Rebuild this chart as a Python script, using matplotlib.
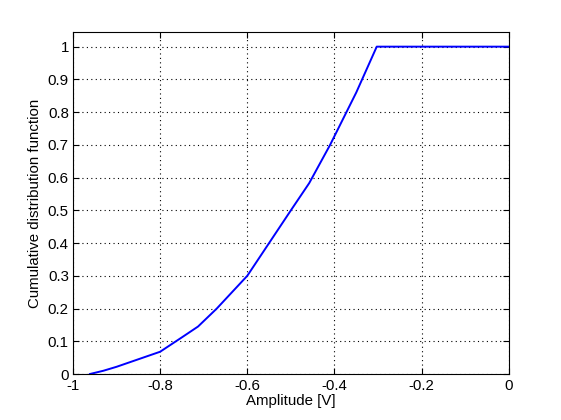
import matplotlib
matplotlib.use("Agg")
import matplotlib.pyplot as plt
from matplotlib.ticker import FixedLocator, FixedFormatter

plt.rcParams['font.family'] = ['Liberation Sans', 'DejaVu Sans']
plt.rcParams['axes.unicode_minus'] = False

amplitude = [-0.961, -0.93, -0.9, -0.85, -0.8, -0.75, -0.713, -0.67, -0.6, -0.55, -0.5, -0.458, -0.41, -0.35, -0.303, 0.0]
cdf = [0.0, 0.01, 0.022, 0.045, 0.068, 0.112, 0.145, 0.2, 0.3, 0.4, 0.5, 0.583, 0.7, 0.86, 1.0, 1.0]

xticks = [-1, -0.8, -0.6, -0.4, -0.2, 0]
xticklabels = ['-1', '-0.8', '-0.6', '-0.4', '-0.2', '0']
yticks = [0, 0.1, 0.2, 0.3, 0.4, 0.5, 0.6, 0.7, 0.8, 0.9, 1]
yticklabels = ['0', '0.1', '0.2', '0.3', '0.4', '0.5', '0.6', '0.7', '0.8', '0.9', '1']

fig = plt.figure(figsize=(5.61, 4.2), dpi=100)
ax = fig.add_axes([0.13, 0.1095, 0.777, 0.8145])
ax.plot(amplitude, cdf, color='#0000ff', linewidth=1.4)
ax.set_xlim(-1, 0)
ax.set_ylim(0, 1.045)
ax.xaxis.set_major_locator(FixedLocator(xticks))
ax.xaxis.set_major_formatter(FixedFormatter(xticklabels))
ax.yaxis.set_major_locator(FixedLocator(yticks))
ax.yaxis.set_major_formatter(FixedFormatter(yticklabels))
ax.grid(True, linestyle=(0, (1, 3)), color='black', linewidth=0.8)
ax.tick_params(direction='in', top=True, right=True, labelsize=10.8, length=4, width=0.8)
ax.tick_params(axis='x', pad=3.5)
ax.tick_params(axis='y', pad=3)
for s in ax.spines.values():
    s.set_linewidth(0.8)
ax.set_xlabel('Amplitude [V]', fontsize=10.8, labelpad=1)
ax.set_ylabel('Cumulative distribution function', fontsize=10.8, labelpad=4)
fig.savefig('out.png', dpi=100)
